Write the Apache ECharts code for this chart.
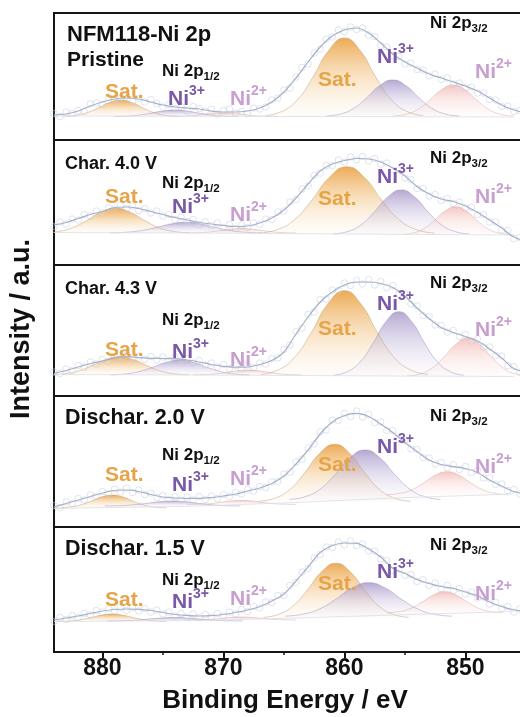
<!DOCTYPE html>
<html><head><meta charset="utf-8">
<script src="https://cdn.jsdelivr.net/npm/echarts@6/dist/echarts.min.js"></script>
<style>html,body{margin:0;padding:0;background:#fff}#c{width:520px;height:717px}</style>
</head><body><div id="c"></div><script>
// ---------- data ----------
const panelTitles = ['NFM118-Ni 2p', 'Char. 4.0 V', 'Char. 4.3 V', 'Dischar. 2.0 V', 'Dischar. 1.5 V'];
const panelSubtitle = 'Pristine';
const xTickLabels = [880, 870, 860, 850];
const xMinorTicks = [875, 865, 855];
const peakKinds = ['sat', 'ni3', 'ni2', 'sat', 'ni3', 'ni2'];
const peakNames = ['Sat.', 'Ni3+', 'Ni2+', 'Sat.', 'Ni3+', 'Ni2+'];

// measured spectra: 0.5 eV steps from 884 eV down to 845.5 eV
const scanEnergy = Array.from({length: 78}, (_, i) => 884 - i * 0.5);
const scanPristine = [26.5,23.5,28,26.5,29.5,28.5,36,37,35.5,42.5, 40,41.5,44,38.5,42,38,40.5,36.5,33,35.5, 31.5,33.5,29,33.5,31.5,29,31,26,29.5,31, 27,28.5,26.5,32,31,33,40,42,50,52, 63,72.5,76,87,91,101,103,110,108.5,113, 110.5,112,105,103.5,94.5,93,84,83.5,76,77, 70.5,70,64,66,60.5,62,56,57,52.5,53, 47,47,40.5,40,33.5,34,28.5,29.5];
const scan4V0 = [38.5,43,41,46,45,50.5,49,54,52,57, 56,60,56.5,59,54.5,56.5,52,54,49,50.5, 45.5,48,43.5,45.5,40.5,43,39.5,42,37.5,40.5, 36.5,40,37.5,42,40.5,46,45.5,53,54,63, 65.5,76,79,89.5,92,99.5,99.5,105,103,108, 105,108.5,104,106.5,101,102,95,95,87,85.5, 76.5,76.5,69,70.5,64.5,66.5,61.5,63,57,57.5, 50.5,50.5,43,43,35,34.5,26.5,27.5];
const scan4V3 = [24,22.5,27,25.5,30.5,29,34,32,36.5,34.5, 39.5,37,41,37.5,40,36.5,39.5,36,39,35.5, 39,35,37.5,33,35.5,31,33,29,31.5,27.5, 30.5,27,31,28.5,33,32,37.5,38,46.5,51, 64.5,68,81.5,84,96.5,97,106,105.5,113,110.5, 116,112,116.5,111,114.5,108.5,110.5,102,102,92, 90,80.5,79.5,71,70.5,64,65.5,59.5,61.5,55, 57,49,49,40.5,40,30.5,29.5,24];
const scan2V0 = [21.5,19.5,25,23.5,28.5,27,32,30.5,35.5,33.5, 38,35,39,34.5,37,32.5,34,29.5,31.5,27.5, 30.5,27,30,27,30.5,27.5,31,28.5,32.5,30.5, 34.5,33,37.5,36,40.5,39.5,45,45.5,53,55, 65,68,79,83,95,97,107,106.5,113.5,110.5, 116,110,112.5,104.5,105,96.5,96.5,87.5,86.5,78, 77.5,69.5,69,63,64.5,59.5,62.5,57.5,60.5,54.5, 56.5,49,49,42.5,43,36.5,37.5,33];
const scan1V5 = [30.5,34.5,32.5,36.5,34.5,38.5,37,41.5,40,43.5, 41,44.5,41.5,44.5,41,43.5,40,42,38,40, 36,38.5,35,38,34.5,37.5,35,38.5,36,40, 38,42.5,40.5,45.5,44,50,49.5,56.5,56.5,66.5, 69.5,80,83.5,94,97.5,105,104.5,110,107,111, 106.5,108,101,101,93,91.5,81.5,83,76.5,77.5, 70.5,72.5,66.5,69,63.5,66.5,61.5,63.5,58,60, 54,55,48,49.5,43.5,45.5,40,43];

// fitted envelopes: 1 eV steps from 884 eV down to 845 eV
const fitEnergy = Array.from({length: 40}, (_, i) => 884 - i);
const envPristine = [25,26,29,34,38,41,42,41,38,35, 33,32,31,29,28,28,29,32,38,48, 62,78,93,104,110,112,107,97,86,78, 72,66,62,58,54,49,42,35,30,27];
const env4V0 = [40,42.5,46.5,50.5,53.5,57.5,58,56.5,53.5,50.5, 47.5,45,42.5,41,39.5,38.5,39,42,47,55, 67,81,94,101,104.5,106.5,106,103,97,89, 78.5,71,66,63.5,59,52.5,45,37,28,24];
const env4V3 = [22.5,25.5,29,32.5,35,38,39.3,38.5,37.7,37.5, 37.3,36,34,31.5,29.7,28.8,29,31.5,35.5,44, 62,79,94,104,111,114,114,112.5,108.5,100, 88,77.5,68.5,63.5,59.5,55,47,38,27.5,24];
const env2V0 = [20,23.5,27,30.5,34,36.5,37,35.5,32.5,30, 29,28.7,28.7,29.5,31,33,36,39,43.5,51, 63,77,93,105,111.5,113.7,110.5,103,94.5,84.5, 75.5,67,62.5,60.3,58.5,54.5,47,41,35.5,33];
const env1V5 = [32,34,36,38.5,41,42.5,43,42.7,41.5,39.5, 37.5,36.5,36,36.3,37.5,39.5,42,45.3,51,58, 71,85,99.5,106.5,109,108.7,103,95,83.7,78.5, 72.5,68.5,65.5,63.5,60,56,50,45.5,42,41];

// Shirley-type backgrounds
const bgEnergy = [884, 872, 864, 856, 846];
const bgPristine = [24, 23.7, 23.5, 23.3, 23];
const bg4V0 = [32.5, 32, 31.3, 30.7, 30];
const bg4V3 = [21.5, 21, 20.5, 20, 19.5];
const bg2V0 = [18.5, 21, 24.5, 29, 33];
const bg1V5 = [30.5, 31.5, 34, 37, 40.5];

// fitted component peaks: centre (eV), sample spacing (eV), baseline, 11 samples
const centresPristine = [878.5, 874.0, 870.0, 860.0, 856.0, 851.0];
const centres4V0 = [878.9, 873.1, 868.5, 859.8, 855.3, 850.8];
const centres4V3 = [878.6, 873.6, 868.0, 860.0, 855.5, 849.8];
const centres2V0 = [879.2, 874.2, 868.5, 860.8, 858.3, 851.5];
const centres1V5 = [879.2, 874.0, 868.5, 860.7, 858.0, 851.7];
const spacingPristine = [0.95, 1.0, 0.9, 1.3, 1.1, 1.0];
const spacing4V0 = [1.2, 1.25, 0.9, 1.45, 1.12, 0.9];
const spacing4V3 = [1.15, 1.15, 0.9, 1.38, 1.08, 1.0];
const spacing2V0 = [0.9, 1.12, 0.9, 1.25, 1.25, 1.0];
const spacing1V5 = [0.9, 1.12, 0.9, 1.2, 1.38, 0.95];
const basePristine = [23.5, 23.5, 23.5, 23.5, 23.5, 23.5];
const base4V0 = [32, 32, 32, 31, 30.5, 30];
const base4V3 = [21, 21, 21, 20.5, 20, 19.5];
const base2V0 = [19, 21, 22.5, 25, 27, 32];
const base1V5 = [30.5, 31, 32, 34, 35.5, 39];
const peaksPristine = [
  [23.7,24.5,27.0,31.8,37.4,40.0,37.4,31.8,27.0,24.5,23.7],
  [23.6,23.9,24.9,26.8,29.0,30.0,29.0,26.8,24.9,23.9,23.6],
  [23.5,23.7,24.2,25.3,26.4,27.0,26.4,25.3,24.2,23.7,23.5],
  [24.5,28.4,40.0,62.8,89.5,102.0,89.5,62.8,40.0,28.4,24.5],
  [24.0,25.8,31.2,41.8,54.2,60.0,54.2,41.8,31.2,25.8,24.0],
  [23.9,25.5,30.1,39.3,50.0,55.0,50.0,39.3,30.1,25.5,23.9]];
const peaks4V0 = [
  [32.3,33.5,37.2,44.4,52.8,56.7,52.8,44.4,37.2,33.5,32.3],
  [32.1,32.7,34.3,37.4,41.0,42.7,41.0,37.4,34.3,32.7,32.1],
  [32.1,32.3,33.0,34.3,35.8,36.5,35.8,34.3,33.0,32.3,32.1],
  [31.9,35.2,45.1,64.7,87.6,98.3,87.6,64.7,45.1,35.2,31.9],
  [31.1,33.3,39.9,52.8,67.9,75.0,67.9,52.8,39.9,33.3,31.1],
  [30.4,31.8,35.9,44.2,53.8,58.3,53.8,44.2,35.9,31.8,30.4]];
const peaks4V3 = [
  [21.2,22.1,24.8,30.2,36.4,39.3,36.4,30.2,24.8,22.1,21.2],
  [21.2,21.9,24.2,28.5,33.6,36.0,33.6,28.5,24.2,21.9,21.2],
  [21.1,21.3,22.1,23.5,25.2,26.0,25.2,23.5,22.1,21.3,21.1],
  [21.6,25.8,38.3,62.9,91.8,105.3,91.8,62.9,38.3,25.8,21.6],
  [20.8,24.0,33.5,52.2,74.1,84.3,74.1,52.2,33.5,24.0,20.8],
  [20.0,21.9,27.5,38.6,51.6,57.7,51.6,38.6,27.5,21.9,20.0]];
const peaks2V0 = [
  [19.2,19.8,21.7,25.5,29.9,32.0,29.9,25.5,21.7,19.8,19.2],
  [21.1,21.3,22.1,23.5,25.2,26.0,25.2,23.5,22.1,21.3,21.1],
  [22.6,22.8,23.3,24.5,25.9,26.5,25.9,24.5,23.3,22.8,22.6],
  [25.8,28.6,37.1,53.9,73.5,82.7,73.5,53.9,37.1,28.6,25.8],
  [27.7,30.1,37.5,52.0,69.0,77.0,69.0,52.0,37.5,30.1,27.7],
  [32.3,33.5,36.9,43.7,51.6,55.3,51.6,43.7,36.9,33.5,32.3]];
const peaks1V5 = [
  [30.6,31.0,32.1,34.3,36.8,38.0,36.8,34.3,32.1,31.0,30.6],
  [31.0,31.2,31.7,32.8,33.9,34.5,33.9,32.8,31.7,31.2,31.0],
  [32.0,32.2,32.6,33.5,34.5,35.0,34.5,33.5,32.6,32.2,32.0],
  [34.7,37.4,45.5,61.4,80.0,88.7,80.0,61.4,45.5,37.4,34.7],
  [35.9,37.6,42.6,52.4,63.9,69.3,63.9,52.4,42.6,37.6,35.9],
  [39.3,40.3,43.5,49.7,56.9,60.3,56.9,49.7,43.5,40.3,39.3]];

const scans = [scanPristine, scan4V0, scan4V3, scan2V0, scan1V5];
const envs = [envPristine, env4V0, env4V3, env2V0, env1V5];
const bgs = [bgPristine, bg4V0, bg4V3, bg2V0, bg1V5];
const centres = [centresPristine, centres4V0, centres4V3, centres2V0, centres1V5];
const spacings = [spacingPristine, spacing4V0, spacing4V3, spacing2V0, spacing1V5];
const bases = [basePristine, base4V0, base4V3, base2V0, base1V5];
const peaks = [peaksPristine, peaks4V0, peaks4V3, peaks2V0, peaks1V5];

// ---------- layout & style ----------
const FONT = '"Liberation Sans", Arial, Helvetica, sans-serif';
const gridTops = [13, 140, 265, 396, 527];
const gridBottoms = [140, 265, 396, 527, 652];
const fill = {
  sat: [[0, 'rgba(235,163,70,0.92)'], [0.5, 'rgba(243,199,138,0.5)'], [1, 'rgba(252,243,230,0.2)']],
  ni3: [[0, 'rgba(165,150,200,0.82)'], [0.5, 'rgba(198,188,222,0.45)'], [1, 'rgba(242,239,247,0.2)']],
  ni2: [[0, 'rgba(242,188,184,0.85)'], [0.5, 'rgba(247,212,208,0.45)'], [1, 'rgba(252,240,238,0.2)']]
};
const outline = {sat: 'rgba(190,155,115,0.6)', ni3: 'rgba(155,142,185,0.6)', ni2: 'rgba(214,168,166,0.6)'};
const labelColor = {sat: '#E6A448', ni3: '#7A58A8', ni2: '#C89FD0'};
// label anchor points (left x, middle y) per panel:
// title, Ni 2p1/2, Ni 2p3/2, then the six peak labels
const labelPos = [
  [[67,33],[162,73],[430,25],[105,90],[168,97],[230,97],[318,78],[377,55],[475,70]],
  [[65,160],[162,185],[430,160],[105,195],[172,205],[230,213],[318,197],[377,175],[475,195]],
  [[65,285],[162,322],[430,285],[105,348],[172,350],[230,358],[318,327],[377,302],[475,328]],
  [[65,416],[162,457],[430,418],[105,473],[172,483],[230,477],[318,463],[377,445],[475,465]],
  [[65,547],[162,582],[430,547],[105,598],[172,600],[230,597],[318,582],[377,570],[475,592]]
];

function grad(kind) {
  return {type: 'linear', x: 0, y: 0, x2: 0, y2: 1,
    colorStops: fill[kind].map(([o, c]) => ({offset: o, color: c}))};
}

const grids = [], xAxes = [], yAxes = [], series = [], graphics = [];
for (let p = 0; p < 5; p++) {
  grids.push({left: 54, width: 484, top: gridTops[p], height: gridBottoms[p] - gridTops[p],
    show: true, borderColor: '#151515', borderWidth: 2, containLabel: false, outerBoundsMode: 'none'});
  const last = p === 4;
  xAxes.push({type: 'value', gridIndex: p, min: 844, max: 884, inverse: true, show: last,
    axisLine: {show: last, lineStyle: {color: '#151515', width: 2}},
    axisTick: {show: last, customValues: xTickLabels, length: 6, lineStyle: {color: '#151515', width: 2}},
    axisLabel: {show: last, customValues: xTickLabels, fontSize: 23, fontWeight: 'bold', color: '#111',
      fontFamily: FONT, margin: 5},
    splitLine: {show: false}});
  yAxes.push({type: 'value', gridIndex: p, min: 0, max: gridBottoms[p] - gridTops[p], show: false});

  for (let k = 0; k < 6; k++) {
    const kind = peakKinds[k];
    const c = centres[p][k], s = spacings[p][k];
    series.push({type: 'line', name: peakNames[k], xAxisIndex: p, yAxisIndex: p, smooth: 0.5,
      symbol: 'none', silent: true, z: 2,
      data: peaks[p][k].map((v, j) => [c + (j - 5) * s, v]),
      lineStyle: {width: 0.8, color: outline[kind]},
      areaStyle: {origin: bases[p][k], color: grad(kind), opacity: 1}});
  }
  series.push({type: 'line', name: 'Background', xAxisIndex: p, yAxisIndex: p, symbol: 'none', silent: true, z: 3,
    data: bgEnergy.map((e, j) => [e, bgs[p][j]]), lineStyle: {width: 0.8, color: '#dcdee4'}});
  series.push({type: 'scatter', name: 'Data', xAxisIndex: p, yAxisIndex: p, silent: true, z: 4,
    symbol: 'circle', symbolSize: 6.5,
    data: scanEnergy.map((e, j) => [e, scans[p][j]]),
    itemStyle: {color: 'rgba(255,255,255,0.15)', borderColor: 'rgba(188,198,218,0.75)', borderWidth: 0.8}});
  series.push({type: 'line', name: 'Envelope', xAxisIndex: p, yAxisIndex: p, smooth: 0.35, symbol: 'none',
    silent: true, z: 5,
    data: fitEnergy.map((e, j) => [e, envs[p][j]]), lineStyle: {width: 1.2, color: '#a6b0c6'}});

  // texts
  const L = labelPos[p];
  const txt = (x, y, text, rich) => graphics.push({type: 'text', x, y, z: 100, silent: true,
    style: {text, rich, align: 'left', verticalAlign: 'middle'}});
  const big = (col, fs) => ({fontSize: fs, fontWeight: 'bold', fontFamily: FONT, fill: col, lineHeight: 26, verticalAlign: 'bottom'});
  const sup = col => ({fontSize: 14, fontWeight: 'bold', fontFamily: FONT, fill: col, lineHeight: 15, verticalAlign: 'top'});
  const ttlSize = p === 0 ? 22 : (p < 3 ? 18 : 21.5);
  txt(L[0][0], L[0][1], '{t|' + panelTitles[p] + '}', {t: big('#111', ttlSize)});
  if (p === 0) txt(67, 58, '{t|' + panelSubtitle + '}', {t: big('#111', 21)});
  const sub = {m: {fontSize: 17, fontWeight: 'bold', fontFamily: FONT, fill: '#111', lineHeight: 20, verticalAlign: 'top'},
               d: {fontSize: 11.5, fontWeight: 'bold', fontFamily: FONT, fill: '#111', lineHeight: 12, verticalAlign: 'bottom'}};
  txt(L[1][0], L[1][1], '{m|Ni 2p}{d|1/2}', sub);
  txt(L[2][0], L[2][1], '{m|Ni 2p}{d|3/2}', sub);
  for (let k = 0; k < 6; k++) {
    const kind = peakKinds[k];
    const col = labelColor[kind];
    const pos = L[3 + k];
    if (kind === 'sat') txt(pos[0], pos[1], '{b|Sat.}', {b: big(col, 21)});
    else txt(pos[0], pos[1], '{b|Ni}{s|' + (kind === 'ni3' ? '3+' : '2+') + '}', {b: big(col, 21), s: sup(col)});
  }
}
// minor ticks on the bottom axis
xAxes.push({type: 'value', gridIndex: 4, min: 844, max: 884, inverse: true, position: 'bottom',
  axisLine: {show: false}, axisLabel: {show: false}, splitLine: {show: false},
  axisTick: {show: true, customValues: xMinorTicks, length: 3, lineStyle: {color: '#151515', width: 1.5}}});

graphics.push({type: 'text', x: 285, y: 701, z: 100, silent: true,
  style: {text: 'Binding Energy / eV', font: 'bold 26px ' + FONT, fill: '#111', align: 'center', verticalAlign: 'middle'}});
graphics.push({type: 'text', x: 22, y: 329, rotation: Math.PI / 2, z: 100, silent: true,
  style: {text: 'Intensity / a.u.', font: 'bold 27px ' + FONT, fill: '#111', align: 'center', verticalAlign: 'middle'}});

const chart = echarts.init(document.getElementById('c'), null, {renderer: 'canvas'});
chart.setOption({animation: false, backgroundColor: '#fff', grid: grids, xAxis: xAxes, yAxis: yAxes,
  series, graphic: {elements: graphics}});
</script></body></html>
